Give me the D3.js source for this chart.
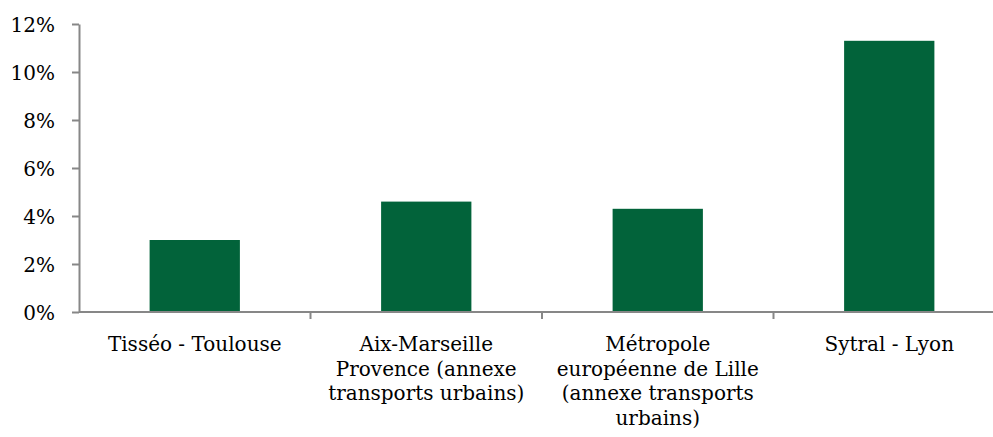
<!DOCTYPE html>
<html><head><meta charset="utf-8">
<script src="https://cdn.jsdelivr.net/npm/d3@7"></script>
<style>body{margin:0;background:#fff}svg{display:block}</style>
</head><body><svg id="c" width="993" height="437"></svg>
<script>
const categories = [
  ["Tisséo - Toulouse"],
  ["Aix-Marseille", "Provence (annexe", "transports urbains)"],
  ["Métropole", "européenne de Lille", "(annexe transports", "urbains)"],
  ["Sytral - Lyon"]
];
const values = [3.0, 4.6, 4.3, 11.3];
const yTicks = [0, 2, 4, 6, 8, 10, 12];

const FONT = "'DejaVu Serif', 'Liberation Serif', serif";
const svg = d3.select("#c");
const x = d3.scaleBand().domain(d3.range(categories.length)).range([79, 1005]).paddingInner(0.61).paddingOuter(0.305);
const y = d3.scaleLinear().domain([0, 12]).range([312, 24]);
const axisColor = "#878787";

svg.selectAll("rect.bar").data(values).join("rect").attr("class","bar")
  .attr("x",(d,i)=>x(i)).attr("width",x.bandwidth())
  .attr("y",d=>y(d)).attr("height",d=>y(0)-y(d)).attr("fill","#02633a");

const ya = svg.append("g").attr("transform","translate(79,0)")
  .call(d3.axisLeft(y).tickValues(yTicks).tickFormat(d=>d+"%").tickSize(7).tickSizeOuter(0));
ya.attr("font-family", FONT).attr("font-size", 20);
ya.select(".domain").attr("stroke",axisColor).attr("stroke-width",2);
ya.selectAll(".tick line").attr("stroke",axisColor).attr("stroke-width",2);
ya.selectAll(".tick text").attr("x",-24).attr("dy","0.35em").attr("fill","#000");

const step = x.step();
const xBounds = d3.range(categories.length+1).map(i => 79 + i*step);
svg.append("line").attr("x1",79).attr("x2",1005).attr("y1",y(0)).attr("y2",y(0)).attr("stroke",axisColor).attr("stroke-width",2);
svg.selectAll("line.xt").data(xBounds.slice(1)).join("line").attr("class","xt")
  .attr("x1",d=>d).attr("x2",d=>d).attr("y1",y(0)).attr("y2",y(0)+7).attr("stroke",axisColor).attr("stroke-width",2);

const lab = svg.selectAll("text.xl").data(categories).join("text").attr("class","xl")
  .attr("text-anchor","middle").attr("font-family",FONT).attr("font-size",20).attr("fill","#000");
lab.each(function(lines,i){
  const t = d3.select(this);
  lines.forEach((s,j)=>{
    t.append("tspan").attr("x", x(i)+x.bandwidth()/2).attr("y", 351 + j*24.5).text(s);
  });
});
</script></body></html>
